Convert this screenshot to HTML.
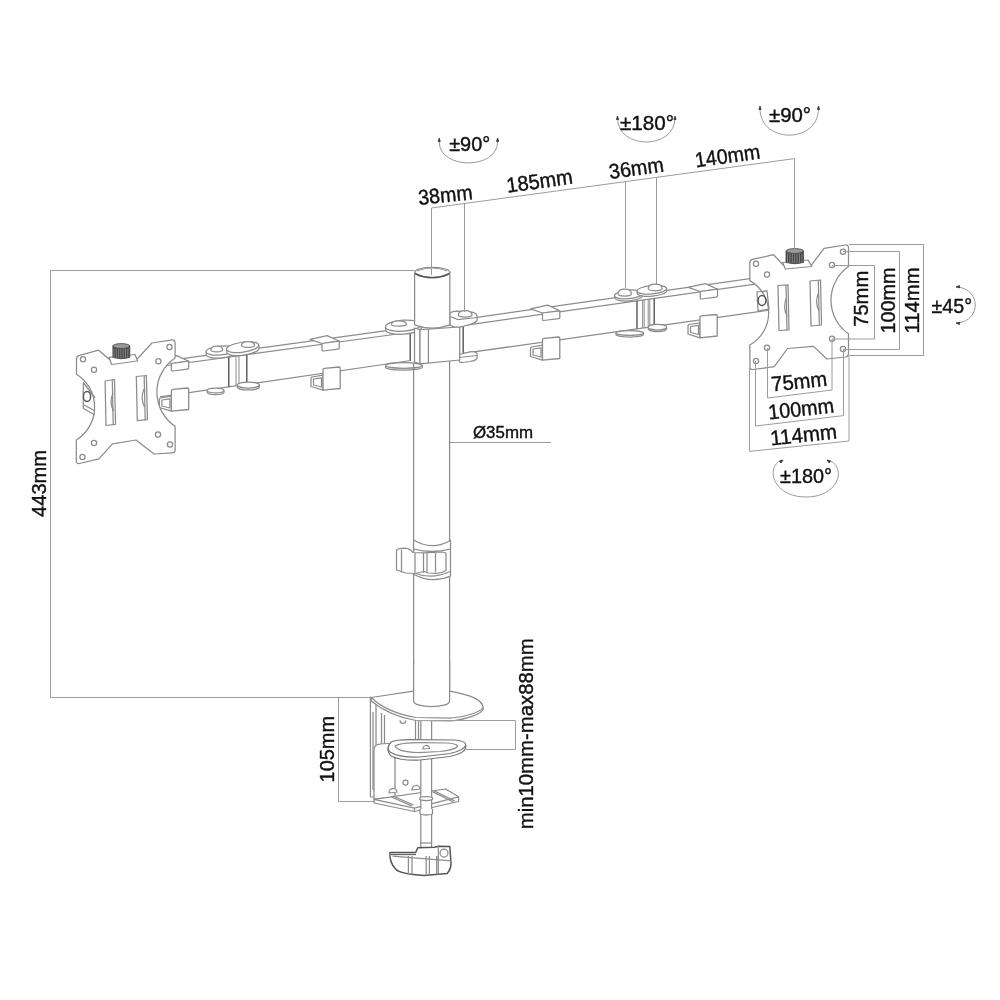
<!DOCTYPE html>
<html><head><meta charset="utf-8">
<style>
html,body{margin:0;padding:0;background:#fff;width:1000px;height:1000px;overflow:hidden}
svg{display:block;will-change:transform}
text{font-family:"Liberation Sans",sans-serif;fill:#111;stroke:#111;stroke-width:0.4}
.d{stroke:#9c9c9c;stroke-width:1;fill:none}
.l{stroke:#8c8c8c;stroke-width:1.25;fill:none}
.lf{stroke:#8c8c8c;stroke-width:1.25;fill:#fff;stroke-linejoin:round}
.a{stroke:#999;stroke-width:1;fill:none}
.k{fill:#333;stroke:#333;stroke-width:0.8}
</style></head><body>
<svg width="1000" height="1000" viewBox="0 0 1000 1000">

<g class="a">
<path d="M439.2,141.6C439.2,170 497.6,170 497.6,141.6"/>
<path d="M617.5,118C617.5,150 675,150 675,118"/>
<path d="M760,108.5C760,144 818.5,144 818.5,108.5"/>
<path d="M958,287C981,290 981,320 958,323"/>
<path d="M782,460C765,466 772,497 806,497C840,497 847,466 828,460"/>
</g>
<path class="k" d="M439.2,138.0L440.3,141.5L438.1,141.5Z"/>
<path class="k" d="M497.6,138.0L498.7,141.5L496.5,141.5Z"/>
<path class="k" d="M617.5,116.0L618.6,119.5L616.4,119.5Z"/>
<path class="k" d="M675.0,116.0L676.1,119.5L673.9,119.5Z"/>
<path class="k" d="M760.0,106.0L761.1,109.5L758.9,109.5Z"/>
<path class="k" d="M818.5,106.0L819.6,109.5L817.4,109.5Z"/>
<path class="k" d="M956.0,287.0L959.4,285.5L959.6,287.8Z"/>
<path class="k" d="M956.0,323.0L959.6,322.2L959.4,324.5Z"/>
<path class="k" d="M783.0,460.0L780.9,463.0L779.5,461.2Z"/>
<path class="k" d="M827.0,460.0L830.5,461.2L829.1,463.0Z"/>
<text x="419" y="205" font-size="21" textLength="54.5" lengthAdjust="spacingAndGlyphs" transform="rotate(-6 419 205)">38mm</text>
<text x="507.5" y="192.8" font-size="21" textLength="66.5" lengthAdjust="spacingAndGlyphs" transform="rotate(-8 507.5 192.8)">185mm</text>
<text x="610" y="179" font-size="21" textLength="55" lengthAdjust="spacingAndGlyphs" transform="rotate(-8 610 179)">36mm</text>
<text x="696" y="167.5" font-size="21" textLength="65.5" lengthAdjust="spacingAndGlyphs" transform="rotate(-8 696 167.5)">140mm</text>
<text x="772" y="391.5" font-size="21" textLength="56" lengthAdjust="spacingAndGlyphs" transform="rotate(-6 772 391.5)">75mm</text>
<text x="769" y="419.5" font-size="21" textLength="66" lengthAdjust="spacingAndGlyphs" transform="rotate(-6 769 419.5)">100mm</text>
<text x="771" y="445.5" font-size="21" textLength="67" lengthAdjust="spacingAndGlyphs" transform="rotate(-6 771 445.5)">114mm</text>
<text x="449.2" y="151.3" font-size="21" textLength="41" lengthAdjust="spacingAndGlyphs">±90°</text>
<text x="620" y="129.5" font-size="21" textLength="54" lengthAdjust="spacingAndGlyphs">±180°</text>
<text x="769" y="122.3" font-size="21" textLength="42" lengthAdjust="spacingAndGlyphs">±90°</text>
<text x="931.5" y="312.8" font-size="21" textLength="40.5" lengthAdjust="spacingAndGlyphs">±45°</text>
<text x="780" y="483.3" font-size="21" textLength="52" lengthAdjust="spacingAndGlyphs">±180°</text>
<text x="868" y="298.8" font-size="21" textLength="56" lengthAdjust="spacingAndGlyphs" text-anchor="middle" transform="rotate(-90 868 298.8)">75mm</text>
<text x="895" y="300.5" font-size="21" textLength="66" lengthAdjust="spacingAndGlyphs" text-anchor="middle" transform="rotate(-90 895 300.5)">100mm</text>
<text x="918.5" y="300.5" font-size="21" textLength="66" lengthAdjust="spacingAndGlyphs" text-anchor="middle" transform="rotate(-90 918.5 300.5)">114mm</text>
<text x="46" y="483.4" font-size="21" textLength="67" lengthAdjust="spacingAndGlyphs" text-anchor="middle" transform="rotate(-90 46 483.4)">443mm</text>
<text x="334" y="749.2" font-size="21" textLength="66.5" lengthAdjust="spacingAndGlyphs" text-anchor="middle" transform="rotate(-90 334 749.2)">105mm</text>
<text x="533" y="733.8" font-size="21" textLength="191" lengthAdjust="spacingAndGlyphs" text-anchor="middle" transform="rotate(-90 533 733.8)">min10mm-max88mm</text>
<text x="473" y="438" font-size="17" textLength="60" lengthAdjust="spacingAndGlyphs">Ø35mm</text>
<g>
<path class="l" d="M160.0,361.7L412.0,327.2" />
<path class="l" d="M160.0,366.5L412.0,332.0" />
<path class="l" d="M160.0,396.9L411.0,360.5" />
<path class="l" d="M228.8,357.1L228.8,386.9" style="stroke-width:1.4;stroke:#555"/>
<path class="l" d="M236.0,356.1L236.0,385.8" style="stroke-width:1"/>
<path class="l" d="M239.0,355.7L239.0,385.4" style="stroke-width:1"/>
<path class="l" d="M246.8,354.6L246.8,384.3" style="stroke-width:1.4;stroke:#555"/>
<path class="l" d="M410.2,332.3L410.2,360.6" style="stroke-width:1.4;stroke:#555"/>
<g><path class="lf" d="M207.2,390.5V392.3A8.4,2.4 0 0 0 224.0,392.3V390.5"/><ellipse class="lf" cx="215.6" cy="390.5" rx="8.4" ry="2.4"/></g>
<g><path class="lf" d="M237.3,385.0V387.0A11,3 0 0 0 259.3,387.0V385.0"/><ellipse class="lf" cx="248.3" cy="385.0" rx="11" ry="3"/></g>
<g transform="rotate(-5 220.5 350.5)"><path class="lf" d="M206.0,350.5V353.5A14.5,4.5 0 0 0 235.0,353.5V350.5"/><ellipse class="lf" cx="220.5" cy="350.5" rx="14.5" ry="4.5"/></g>
<g transform="rotate(-8 242.6 347.2)"><path class="lf" d="M226.4,347.2V350.2A16.2,5 0 0 0 258.8,350.2V347.2"/><ellipse class="lf" cx="242.6" cy="347.2" rx="16.2" ry="5"/></g>
<path class="lf" d="M210.8,350.0Q210.8,346.0 216.8,346.0Q222.8,346.0 222.8,350.0A6,1.7999999999999998 0 0 1 210.8,350.0Z"/>
<path class="lf" d="M241.5,345.5Q241.5,341.5 248.0,341.5Q254.5,341.5 254.5,345.5A6.5,1.7999999999999998 0 0 1 241.5,345.5Z"/>
<g><path class="lf" d="M385.5,365.5V367.3A18.4,2.8 0 0 0 422.3,367.3V365.5"/><ellipse class="lf" cx="403.9" cy="365.5" rx="18.4" ry="2.8"/></g>
<g transform="rotate(-4 403.3 325.7)"><path class="lf" d="M385.4,325.7V328.7A17.85,5.5 0 0 0 421.2,328.7V325.7"/><ellipse class="lf" cx="403.3" cy="325.7" rx="17.85" ry="5.5"/></g>
<path class="lf" d="M391.5,324.5Q391.5,320.8 399.0,320.8Q406.5,320.8 406.5,324.5A7.5,1.62 0 0 1 391.5,324.5Z"/>
</g>
<path class="l" d="M463.0,319.3L770.0,275.7" />
<path class="l" d="M463.0,325.6L770.0,282.0" />
<path class="l" d="M463.0,353.4L770.0,310.0" />
<path class="l" d="M463.2,326.6L463.2,353.4" style="stroke-width:1.4;stroke:#555"/>
<path class="l" d="M637.0,300.9L637.0,328.8" style="stroke-width:1.4;stroke:#555"/>
<path class="l" d="M642.6,300.1L642.6,328.0" style="stroke-width:1"/>
<path class="l" d="M644.2,299.9L644.2,327.8" style="stroke-width:1"/>
<path class="l" d="M648.2,299.3L648.2,327.2" style="stroke-width:1"/>
<path class="l" d="M649.8,299.1L649.8,327.0" style="stroke-width:1"/>
<path class="l" d="M654.2,298.4L654.2,326.4" style="stroke-width:1.4;stroke:#555"/>
<g><path class="lf" d="M616.0,333.0V334.6A13.7,2.4 0 0 0 643.4,334.6V333.0"/><ellipse class="lf" cx="629.7" cy="333.0" rx="13.7" ry="2.4"/></g>
<g><path class="lf" d="M648.2,327.2V328.8A9.2,2.8 0 0 0 666.6,328.8V327.2"/><ellipse class="lf" cx="657.4" cy="327.2" rx="9.2" ry="2.8"/></g>
<g transform="rotate(-5 628.6 294.4)"><path class="lf" d="M614.6,294.4V296.6A14,4.3 0 0 0 642.6,296.6V294.4"/><ellipse class="lf" cx="628.6" cy="294.4" rx="14" ry="4.3"/></g>
<g transform="rotate(-5 651.8 289.8)"><path class="lf" d="M637.0,289.8V292.0A14.8,4.2 0 0 0 666.6,292.0V289.8"/><ellipse class="lf" cx="651.8" cy="289.8" rx="14.8" ry="4.2"/></g>
<path class="lf" d="M618.0,293.8Q618.0,289.0 624.7,289.0Q631.4,289.0 631.4,293.8A6.7,2.28 0 0 1 618.0,293.8Z"/>
<path class="lf" d="M648.2,288.6Q648.2,284.0 655.2,284.0Q662.2,284.0 662.2,288.6A7,2.16 0 0 1 648.2,288.6Z"/>
<path class="lf" d="M459,354.5L470,351.8Q477.1,351.2 477.1,354V358Q476.5,360.5 470,361.5L462,362.5Q459,362.5 459,360Z"/>
<path class="l" d="M459.0,357.5L477.1,355.5" />
<path class="lf" d="M449.6,313.5Q452,311.2 458,311.2L472,312.2Q477.1,313.2 477.1,316.5V320Q476.5,322.5 470,324.5L460,327.2Q454,328 450,325Z"/>
<path class="l" d="M450.0,316.5L458.0,319.5L477.1,317.5" />
<path class="lf" d="M458.4,315.0Q458.4,310.6 465.2,310.6Q472.0,310.6 472.0,315.0A6.8,2.04 0 0 1 458.4,315.0Z"/>
<path class="lf" d="M310.0,339.4L327.2,335.6L339.2,341.2L322.0,343.5Z" />
<path class="lf" d="M322.0,343.5L339.2,341.2V348.0Q339.2,349.0 338.0,349.1L323.2,351.0Q322.0,351.1 322.0,350.0Z"/>
<path class="lf" d="M323.0,375.2L312.0,377.0L311.0,378.0L311.0,386.5L323.0,390.2Z" />
<path class="lf" d="M313.5,379.0L321.5,377.8L321.5,387.0L313.5,385.0Z" />
<path class="lf" style="stroke-width:1.3" d="M323.0,369.5Q323.0,368.5 324.5,368.3L339.0,367.0Q340.2,367.0 340.2,368.0V388.5L323.0,390.2Z"/>
<path class="lf" d="M530.5,308.9L547.8,305.1L559.8,310.8L542.5,313.0Z" />
<path class="lf" d="M542.5,313.0L559.8,310.8V317.5Q559.8,318.5 558.5,318.6L543.7,320.5Q542.5,320.6 542.5,319.5Z"/>
<path class="lf" d="M542.5,345.2L531.5,347.0L530.5,348.0L530.5,356.5L542.5,360.2Z" />
<path class="lf" d="M533.0,349.0L541.0,347.8L541.0,357.0L533.0,355.0Z" />
<path class="lf" style="stroke-width:1.3" d="M542.5,339.5Q542.5,338.5 544.0,338.3L558.5,337.0Q559.8,337.0 559.8,338.0V358.5L542.5,360.2Z"/>
<path class="lf" d="M688.2,287.4L705.5,283.6L717.5,289.2L700.2,291.5Z" />
<path class="lf" d="M700.2,291.5L717.5,289.2V296.0Q717.5,297.0 716.2,297.1L701.5,299.0Q700.2,299.1 700.2,298.0Z"/>
<path class="lf" d="M700.0,322.8L689.0,324.5L688.0,325.5L688.0,334.0L700.0,337.8Z" />
<path class="lf" d="M690.5,326.5L698.5,325.3L698.5,334.5L690.5,332.5Z" />
<path class="lf" style="stroke-width:1.3" d="M700.0,317.0Q700.0,316.0 701.5,315.8L716.0,314.5Q717.2,314.5 717.2,315.5V336.0L700.0,337.8Z"/>
<path class="lf" d="M159.4,359.4L176.7,355.6L188.7,361.2L171.4,363.5Z" />
<path class="lf" d="M171.4,363.5L188.7,361.2V368.0Q188.7,369.0 187.4,369.1L172.6,371.0Q171.4,371.1 171.4,370.0Z"/>
<path class="lf" d="M171.4,396.2L160.4,398.0L159.4,399.0L159.4,407.5L171.4,411.2Z" />
<path class="lf" d="M161.9,400.0L169.9,398.8L169.9,408.0L161.9,406.0Z" />
<path class="lf" style="stroke-width:1.3" d="M171.4,390.5Q171.4,389.5 172.9,389.3L187.4,388.0Q188.7,388.0 188.7,389.0V409.5L171.4,411.2Z"/>
<path class="lf" d="M414.6,272.3V324.8Q432.2,331.5 449.8,324.8V272.3Z"/>
<ellipse class="lf" cx="432.2" cy="272.3" rx="17.5" ry="5"/>
<path d="M415,273.5Q432.2,282 449.4,273.5" stroke="#555" stroke-width="1.4" fill="none"/>
<path d="M417,271Q432.2,265 447,271" stroke="#999" stroke-width="1" fill="none"/>
<path class="lf" d="M414.5,328.0L420.0,329.7L420.0,363.8L414.5,362.0Z" />
<path class="lf" d="M420.0,329.7L459.7,327.0L459.7,360.0L420.0,363.8Z" />
<path class="l" d="M428.4,329.1L428.4,363.0" />
<path class="l" d="M413.6,364.0L413.6,706.0" />
<path class="l" d="M449.6,361.0L449.6,706.0" />
<path class="lf" d="M413.5,540Q432,551 450.5,540.5V576Q432,584 414,574.5Z"/>
<path class="l" d="M413.5,550.0" />
<path class="l" d="M413.5,549Q432,554 450.5,549"/>
<path class="lf" d="M396.5,550.5Q397,548.5 405,548.2Q410,548.5 413,552.5L424,552.8L442,552L446,553V570.5Q441,573.5 436,573.5L428,573L424,571.5L415,573.5L406,573L396.5,570Z"/>
<path class="l" d="M401.5,549.5L401.5,572.5" />
<path class="l" d="M415.0,553.0L415.0,572.5" />
<path class="l" d="M423.5,553.0L423.5,572.5" />
<path class="l" d="M427.0,553.0L427.0,572.5" />
<path class="l" d="M435.5,553.0L435.5,572.5" />
<path class="l" d="M414,573Q432,580 450,571.5"/>
<path class="lf" d="M370.4,697.2L376.0,699.0L376.0,797.0L370.4,796.8Z" />
<path class="l" d="M373.0,712.0L373.0,790.0" />
<path class="l" d="M381.5,713.0L381.5,745.0" />
<path class="l" d="M384.5,715.0L384.5,745.0" />
<path class="l" d="M415.5,720.0L415.5,741.0" />
<path class="l" d="M418.5,720.0L418.5,741.0" />
<path class="lf" d="M400,720.5A2.9,2.9 0 0 0 405.8,720.5"/>
<path class="lf" d="M374,799V750Q374,744 380,744L395,743L395,797Z"/>
<circle class="lf" cx="405.5" cy="782.5" r="2.5"/>
<path class="lf" d="M374.0,799.4L445.6,789.0L458.6,796.8L458.6,801.5L414.4,811.5L374.0,803.0Z" />
<path class="l" d="M374.0,799.4L414.4,808.0L458.6,796.8" />
<path class="l" d="M391.0,796.8L411.8,805.9" />
<path class="l" d="M393.0,796.0L413.5,805.0" />
<path class="l" d="M432.6,791.6L453.4,802.0" />
<path class="l" d="M434.5,791.0L455.0,801.0" />
<path class="l" d="M414.4,808.0L414.4,811.5" />
<path class="lf" d="M389,793A4,4 0 0 1 397,792Z"/>
<path class="lf" d="M412,790A4,4 0 0 1 420,789Z"/>
<path class="lf" d="M420.8,757V848H431.6V757Z"/>
<ellipse class="lf" cx="426.2" cy="798.5" rx="6.5" ry="2"/>
<path class="lf" d="M420,809V814Q426,816 432.5,814V809"/>
<path class="l" d="M420.8,843.0L431.6,843.0" />
<path class="l" d="M420.8,720.0L420.8,757.0" />
<path class="l" d="M431.6,720.0L431.6,757.0" />
<path class="lf" style="stroke:#777" d="M388,747V750Q389,755 392,756.5Q402,761 420,760L450,756.5Q465,753 465.7,748V745"/>
<path class="lf" style="stroke:#777" d="M391,742Q396,739.5 410,739.5L455,740Q466,741 465.7,745Q465,750 450,753.5L420,757Q400,758 390,752Q386,748 391,742Z"/>
<path class="l" d="M395,746Q400,742.5 420,742.5L448,743Q459,744 457,747Q454,750 440,751.5L418,752.5Q398,752 395,746Z"/>
<path class="lf" d="M423,749A3.2,3.2 0 0 1 429.5,748.5Z"/>
<path class="lf" d="M371.2,697.5L413.6,691.2L449.6,691.2C470,695 482,699 483.2,707.5V709.5C481,714 468,719 451,721L416,720.5C396,717 381,709 371.2,701Z"/>
<path class="l" d="M371.2,697.5C380,706 395,714 416,717.5L451,718C468,716 480,712 483.2,707.5"/>
<path class="lf" d="M413.6,664V701C413.6,708.5 449.6,708.5 449.6,701V664Z" style="stroke:none"/>
<path class="l" d="M413.6,660.0L413.6,701.0" />
<path class="l" d="M449.6,660.0L449.6,701.0" />
<path class="l" d="M413.6,701C413.6,708.5 449.6,708.5 449.6,701"/>
<path class="lf" style="stroke-width:1.5;stroke:#555" d="M390,852.5L415.7,852.5L417.8,847.8L434.6,847.2L438.3,846.2L449.8,846.5L450.8,860Q452,868 447.2,873.5L424,875.6Q400,874 395.8,869.3Q389,862 390,852.5Z"/>
<path class="l" d="M392.6,856.2L438.8,859.8L450.8,860.9" />
<path d="M391,854.5L416,854.5" stroke="#666" stroke-width="1.3"/>
<path class="l" d="M408.4,856.0L408.4,874.5" />
<path class="l" d="M412.0,856.0L412.0,874.5" />
<path class="l" d="M426.2,856.0L426.2,874.5" />
<path class="l" d="M429.4,856.0L429.4,874.5" />
<path class="l" d="M436.7,856.0L436.7,874.5" />
<path class="l" d="M438.3,856.0L438.3,874.5" />
<path class="l" d="M438.3,846.2L438.3,859.8" />
<circle class="l" cx="444" cy="853" r="4"/>
<path class="lf" d="M76.5,359Q76.5,356 79.5,355.4L98.6,350.2L109.5,359.5L137.6,358.5L151.9,343L172,339.8Q175.1,339.6 175.1,343V358A41,41 0 0 0 175.1,426.2V450Q175.1,452.8 172.5,452.9L154,454L136,440L112.5,443.8L98.8,458.8L79.5,463.5Q76.3,464 76.3,461V440A38.8,38.8 0 0 0 76.5,374.2Z"/>
<circle class="lf" cx="83" cy="359.3" r="2.6"/>
<circle class="lf" cx="94" cy="369.7" r="2.6"/>
<circle class="lf" cx="169.5" cy="347" r="2.6"/>
<circle class="lf" cx="158.4" cy="361.2" r="2.6"/>
<circle class="lf" cx="158" cy="434.5" r="2.6"/>
<circle class="lf" cx="170" cy="444.5" r="2.6"/>
<circle class="lf" cx="94" cy="443" r="2.6"/>
<circle class="lf" cx="82.5" cy="457" r="2.6"/>
<path class="lf" d="M105.1,381.0L114.5,379.5L115.5,424.3L106.0,425.5Z" />
<path class="l" d="M112.3,380.0L113.2,424.6" />
<path class="lf" d="M136.3,376.5L146.4,375.5L147.4,419.7L137.3,420.7Z" />
<path class="l" d="M144.2,376.0L145.2,420.0" />
<path class="l" d="M113,393Q109,402 113.5,411"/>
<path class="l" d="M144,389Q140,398 144.5,407"/>
<path class="l" d="M83.3,382.5L83.3,408.5L95.0,415.0" />
<path class="l" d="M83.3,404.5L95.0,411.0" />
<path class="l" d="M83.3,382.5L95.0,398.0" />
<ellipse cx="87" cy="396.5" rx="3.6" ry="5" fill="#fff" stroke="#555" stroke-width="1.4"/>
<path class="lf" d="M109.0,357.3L135.0,354.5L137.6,361.0L111.6,364.5Z" />
<path d="M112.9,346V357.5Q121.3,360 129.8,357.5V346Z" fill="#4a4a4a" stroke="#444" stroke-width="0.8"/>
<ellipse cx="121.3" cy="346" rx="8.45" ry="2.4" fill="#9a9a9a" stroke="#444" stroke-width="0.8"/>
<path d="M114.0,348.5V358" stroke="#999" stroke-width="0.7"/>
<path d="M116.3,348.5V358" stroke="#999" stroke-width="0.7"/>
<path d="M118.6,348.5V358" stroke="#999" stroke-width="0.7"/>
<path d="M120.9,348.5V358" stroke="#999" stroke-width="0.7"/>
<path d="M123.2,348.5V358" stroke="#999" stroke-width="0.7"/>
<path d="M125.5,348.5V358" stroke="#999" stroke-width="0.7"/>
<path d="M127.8,348.5V358" stroke="#999" stroke-width="0.7"/>
<path class="lf" d="M749.8,263Q749.8,260 752.5,259.4L773.6,254.7L783.4,265.2L811.4,265.2L824,248.4L845.5,245Q848.5,244.8 848.5,248V266.6A41,41 0 0 0 848.5,333.8V353.5Q848.5,356.5 845.5,357L826.8,359L813.5,346.4L787.6,348.5L774.3,366.7L753,369.5Q750,369.8 750,367L749.8,345A36.9,36.9 0 0 0 749.8,280.6Z"/>
<circle class="lf" cx="756" cy="263.75" r="2.6"/>
<circle class="lf" cx="767" cy="274.5" r="2.6"/>
<circle class="lf" cx="843" cy="251.75" r="2.6"/>
<circle class="lf" cx="832" cy="265" r="2.6"/>
<circle class="lf" cx="832" cy="338.75" r="2.6"/>
<circle class="lf" cx="843" cy="349" r="2.6"/>
<circle class="lf" cx="767" cy="347.75" r="2.6"/>
<circle class="lf" cx="756" cy="361" r="2.6"/>
<path class="lf" d="M778.0,285.5L788.0,284.8L789.0,329.8L779.0,330.5Z" />
<path class="l" d="M786.0,285.0L787.0,330.0" />
<path class="lf" d="M810.0,281.0L820.5,280.0L821.5,325.0L811.0,326.0Z" />
<path class="l" d="M818.3,280.3L819.3,325.3" />
<path class="l" d="M786.5,298Q782.5,307 787,316"/>
<path class="l" d="M818.5,293Q814.5,302 819,311"/>
<path class="l" d="M757,292L767,291L769,309L758,311Z"/>
<ellipse cx="762" cy="300.5" rx="3.8" ry="5" fill="#fff" stroke="#555" stroke-width="1.4"/>
<path class="lf" d="M782.5,262.5L808.0,260.0L811.8,266.5L785.5,269.0Z" />
<path d="M786,251V262.5Q794.75,265 803.5,262.5V251Z" fill="#4a4a4a" stroke="#444" stroke-width="0.8"/>
<ellipse cx="794.75" cy="251" rx="8.75" ry="2.4" fill="#9a9a9a" stroke="#444" stroke-width="0.8"/>
<path d="M787.5,253.5V263" stroke="#999" stroke-width="0.7"/>
<path d="M789.9,253.5V263" stroke="#999" stroke-width="0.7"/>
<path d="M792.3,253.5V263" stroke="#999" stroke-width="0.7"/>
<path d="M794.7,253.5V263" stroke="#999" stroke-width="0.7"/>
<path d="M797.1,253.5V263" stroke="#999" stroke-width="0.7"/>
<path d="M799.5,253.5V263" stroke="#999" stroke-width="0.7"/>
<path d="M801.9,253.5V263" stroke="#999" stroke-width="0.7"/>
<g class="d">
<path d="M50.5,270.5H414.5M50.5,270.5V697.5M50.5,697.5H371"/>
<path d="M338.5,697.5V801.5M338.5,801.5H375"/>
<path d="M433,720.5H515.5M466,749.5H515.5M515.5,720.5V749.5"/>
<path d="M449.5,442.5H551"/>
<path d="M431.5,208L794.5,158.6M431.5,208V275M464.5,203.6V312M625.5,181.7V288M656.5,177.5V284M794.5,158.6V249"/>
<path d="M832,265.5H874.5M832,339H874.5M874.5,265.5V339"/>
<path d="M843,251.5H899.5M843,349.5H899.5M899.5,251.5V349.5"/>
<path d="M849,244.5H923.5M849,355.5H923.5M923.5,244.5V355.5"/>
<path d="M767.5,348V398L832,390V339"/>
<path d="M755.5,361V426L843.5,415.6V349"/>
<path d="M749.5,368V451.4L849,441V355"/>
</g>
</svg>
</body></html>
